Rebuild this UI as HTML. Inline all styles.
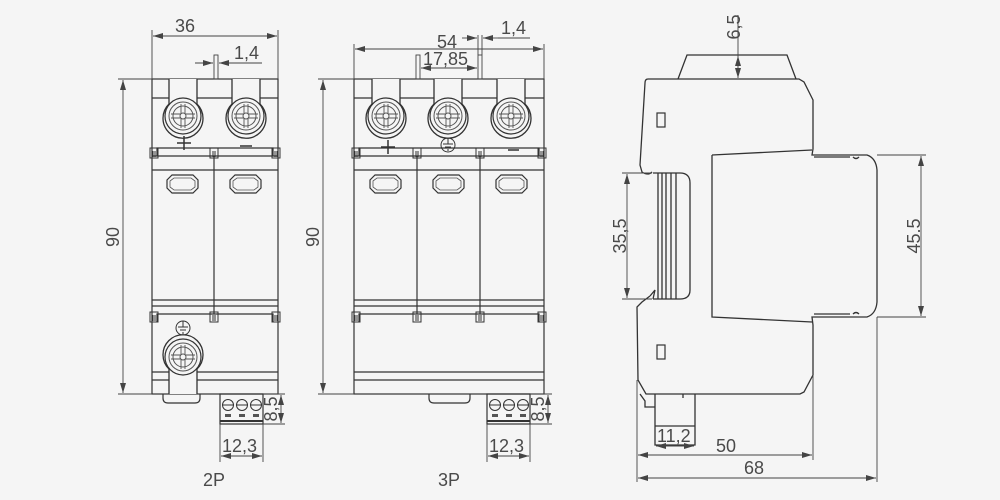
<!DOCTYPE html>
<html><head><style>
html,body{margin:0;padding:0;background:#f5f5f5;}
svg{display:block;}
text{font-family:"Liberation Sans",sans-serif;fill:#4a4a4a;font-size:18px;}
</style></head><body>
<svg width="1000" height="500" viewBox="0 0 1000 500" xmlns="http://www.w3.org/2000/svg">
<defs>
<marker id="a" viewBox="0 0 10 6" refX="10" refY="3" markerWidth="10" markerHeight="6" orient="auto-start-reverse" markerUnits="userSpaceOnUse"><path d="M0,0L10,3L0,6z" fill="#444"/></marker>
<g id="term">
<path d="M-14,-37V-12A20,20 0 1 0 14,-12V-37" fill="#f5f5f5" stroke="#333" stroke-width="1.3"/>
<circle r="18" fill="none" stroke="#333" stroke-width="1.2"/>
<circle r="14" fill="none" stroke="#555"/>
<circle r="10" fill="none" stroke="#555"/>
<path d="M-12,-2H12M-12,2H12M-2,-12V12M2,-12V12" stroke="#555" stroke-width="0.9"/>
<circle r="3" fill="#f5f5f5" stroke="#555"/>
</g>
<g id="win"><path d="M5,0H26L31,5V13L26,18H5L0,13V5Z" fill="none" stroke="#333" stroke-width="1.2"/><path d="M7,3H24L28,6V12L24,15H7L3,12V6Z" fill="none" stroke="#555" stroke-width="0.8"/></g>
<g id="clip"><rect x="-4" y="0" width="8" height="10" fill="none" stroke="#333"/><path d="M-1,3V9M1,3V9" stroke="#333"/></g>
<g id="conn">
<rect x="0" y="0" width="43" height="30" fill="none" stroke="#333" stroke-width="1.2"/>
<circle cx="8" cy="11" r="5.5" fill="none" stroke="#333"/><circle cx="22" cy="11" r="5.5" fill="none" stroke="#333"/><circle cx="36" cy="11" r="5.5" fill="none" stroke="#333"/>
<path d="M3,11H13M17,11H27M31,11H41" stroke="#333"/>
<rect x="5" y="20" width="6" height="3" fill="#555"/><rect x="19" y="20" width="6" height="3" fill="#555"/><rect x="33" y="20" width="6" height="3" fill="#555"/>
<path d="M0,27H43" stroke="#333" stroke-width="2"/>
</g>
</defs>

<g stroke="#333" fill="none" stroke-width="1.2">
<rect x="152" y="79" width="126" height="315"/>
<path d="M152,98H278M152,156H278M152,170H278M214,156V314M152,300H278M152,306H278M152,372H278M152,380H278"/>
<path d="M157,156V148H273V156M157,322V314H273V322"/>
<path d="M163,394V398Q163,403 168,403H195Q200,403 200,398V394"/>
</g>
<use href="#term" x="183" y="116"/><use href="#term" x="246" y="116"/>
<g transform="translate(183,357) scale(1,-1)"><use href="#term"/></g>
<use href="#clip" x="154" y="148"/><use href="#clip" x="214" y="148"/><use href="#clip" x="276" y="148"/>
<use href="#clip" x="154" y="312"/><use href="#clip" x="214" y="312"/><use href="#clip" x="276" y="312"/>
<use href="#win" x="167" y="175"/><use href="#win" x="230" y="175"/>
<g stroke="#333" stroke-width="1.5" fill="none"><path d="M177,143H191M184,136V150M240,146H252"/>
<circle cx="183" cy="328" r="7" stroke-width="1"/><path d="M183,321V327M178,327H188M180,330H186M182,333H184" stroke-width="1"/></g>
<use href="#conn" x="220" y="394"/>
<g stroke="#444" stroke-width="0.9" fill="none">
<path d="M152,79V30M278,79V30"/><path d="M153,36H277" marker-start="url(#a)" marker-end="url(#a)"/>
<rect x="214" y="55" width="4" height="24"/><path d="M195,63H213" marker-end="url(#a)"/><path d="M237,63H219" marker-end="url(#a)"/><path d="M237,63H262"/>
<path d="M118,79H152M118,394H152"/><path d="M123,80V393" marker-start="url(#a)" marker-end="url(#a)"/>
<path d="M263,394H285M263,424H285"/><path d="M281,395V423" marker-start="url(#a)" marker-end="url(#a)"/>
<path d="M220,424V462M263,424V462"/><path d="M221,456H262" marker-start="url(#a)" marker-end="url(#a)"/>
</g>
<text x="175" y="32">36</text><text x="234" y="59">1,4</text>
<text transform="translate(119,237) rotate(-90)" text-anchor="middle">90</text>
<text transform="translate(277,409) rotate(-90)" text-anchor="middle" font-size="15">8,5</text>
<text x="222" y="452">12,3</text><text x="203" y="486" font-size="17">2P</text>

<g stroke="#333" fill="none" stroke-width="1.2">
<rect x="354" y="79" width="190" height="315"/>
<path d="M354,98H544M354,156H544M354,170H544M417,156V314M480,156V314M354,300H544M354,306H544M354,372H544M354,380H544"/>
<path d="M359,156V148H539V156M359,322V314H539V322"/>
<path d="M429,394V398Q429,403 434,403H465Q470,403 470,398V394"/>
</g>
<use href="#term" x="386" y="116"/><use href="#term" x="448" y="116"/><use href="#term" x="511" y="116"/>
<use href="#clip" x="356" y="148"/><use href="#clip" x="417" y="148"/><use href="#clip" x="480" y="148"/><use href="#clip" x="542" y="148"/>
<use href="#clip" x="356" y="312"/><use href="#clip" x="417" y="312"/><use href="#clip" x="480" y="312"/><use href="#clip" x="542" y="312"/>
<use href="#win" x="370" y="175"/><use href="#win" x="433" y="175"/><use href="#win" x="496" y="175"/>
<g stroke="#333" stroke-width="1.5" fill="none"><path d="M381,147H395M388,140V154M508,150H519"/>
<circle cx="448" cy="145" r="7" stroke-width="1"/><path d="M448,138V144M443,144H453M445,147H451M447,150H449" stroke-width="1"/></g>
<use href="#conn" x="487" y="394"/>
<g stroke="#444" stroke-width="0.9" fill="none">
<path d="M354,79V44M544,79V44"/><path d="M355,49H543" marker-start="url(#a)" marker-end="url(#a)"/>
<rect x="416" y="55" width="4" height="24"/><rect x="478" y="55" width="4" height="24"/>
<path d="M421,68H477" marker-start="url(#a)" marker-end="url(#a)"/>
<path d="M478,35V55M482,35V55"/><path d="M462,38H477" marker-end="url(#a)"/><path d="M498,38H483" marker-end="url(#a)"/><path d="M498,38H530"/>
<path d="M318,79H354M318,394H354"/><path d="M323,80V393" marker-start="url(#a)" marker-end="url(#a)"/>
<path d="M530,394H552M530,424H552"/><path d="M548,395V423" marker-start="url(#a)" marker-end="url(#a)"/>
<path d="M487,424V462M530,424V462"/><path d="M488,456H529" marker-start="url(#a)" marker-end="url(#a)"/>
</g>
<text x="437" y="48">54</text><text x="423" y="65">17,85</text><text x="501" y="34">1,4</text>
<text transform="translate(319,237) rotate(-90)" text-anchor="middle">90</text>
<text transform="translate(544,409) rotate(-90)" text-anchor="middle" font-size="15">8,5</text>
<text x="489" y="452">12,3</text><text x="438" y="486" font-size="17">3P</text>

<g stroke="#333" fill="none" stroke-width="1.3">
<path d="M678,79L687,55H787L796,79"/>
<path d="M648,79H799L804,82L813,100V149L812,155H867Q876,158 877,170V302Q876,314 867,317H812L813,325V375L804,392L800,394H646L638,380L637,307L642,302L650,296"/>
<path d="M648,79Q645,79 645,83L640,165L642,172Q648,176 652,172"/>
<path d="M712,155L812,150M712,155V317L812,322"/>
<path d="M653,173H680Q690,173 690,183V290Q690,299 680,299H653"/>
<path d="M658,173V299M662,173V299M666,173V299M671,173V299M676,173V299"/>
<path d="M650,296L655,290L653,299"/>
<path d="M814,157H850M814,314H850"/>
<path d="M853,157Q856,160 859,157M853,314Q856,311 859,314"/>
<path d="M640,394L645,401V407H655M655,394V445H695V394M683,394V398M655,426H695"/>
</g>
<rect x="657" y="113" width="8" height="14" fill="none" stroke="#333" stroke-width="1.2"/>
<rect x="657" y="345" width="8" height="14" fill="none" stroke="#333" stroke-width="1.2"/>
<g stroke="#444" stroke-width="0.9" fill="none">
<path d="M738,15V56"/><path d="M738,56V78" marker-start="url(#a)" marker-end="url(#a)"/>
<path d="M622,173H652M622,299H652"/><path d="M627,174V298" marker-start="url(#a)" marker-end="url(#a)"/>
<path d="M877,155H926M877,317H926"/><path d="M921,156V316" marker-start="url(#a)" marker-end="url(#a)"/>
<path d="M637,380V482M813,375V460M877,317V482"/>
<path d="M656,446H694" marker-start="url(#a)" marker-end="url(#a)"/>
<path d="M638,455H812" marker-start="url(#a)" marker-end="url(#a)"/>
<path d="M638,478H876" marker-start="url(#a)" marker-end="url(#a)"/>
</g>
<text transform="translate(740,27) rotate(-90)" text-anchor="middle">6,5</text>
<text transform="translate(626,236) rotate(-90)" text-anchor="middle">35,5</text>
<text transform="translate(920,236) rotate(-90)" text-anchor="middle">45.5</text>
<text x="657" y="442">11,2</text><text x="716" y="452">50</text><text x="744" y="474">68</text>
</svg>
</body></html>
